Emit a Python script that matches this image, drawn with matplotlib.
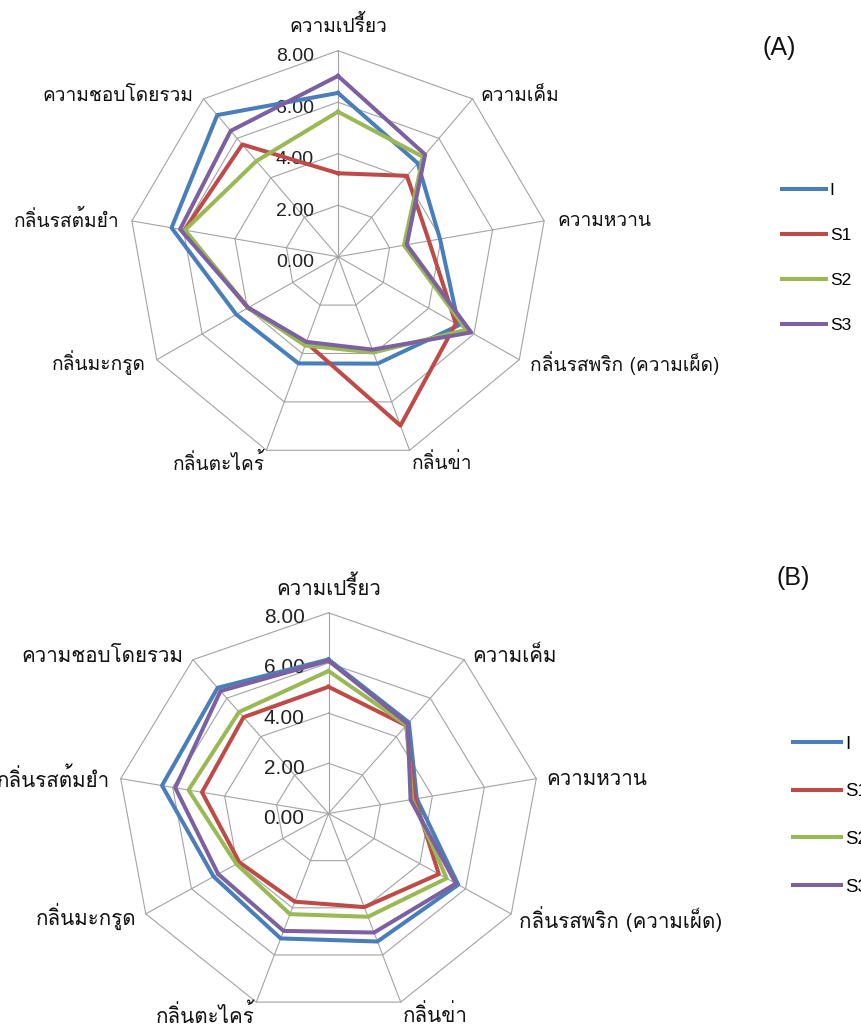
import numpy as np
import matplotlib
matplotlib.use("Agg")
import matplotlib.pyplot as plt

# Sensory attributes (clockwise from the top spoke)
attributes = [
    "ความเปรี้ยว", "ความเค็ม", "ความหวาน", "กลิ่นรสพริก (ความเผ็ด)",
    "กลิ่นข่า", "กลิ่นตะไคร้", "กลิ่นมะกรูด", "กลิ่นรสต้มยำ", "ความชอบโดยรวม",
]
series_names = ["I", "S1", "S2", "S3"]
radial_ticks = [0, 2, 4, 6, 8]

# Panel (A) mean scores
a_I = [6.36, 4.74, 3.96, 5.33, 4.42, 4.41, 4.49, 6.46, 7.18]
a_S1 = [3.24, 4.10, 3.53, 5.20, 6.98, 3.55, 3.98, 5.96, 5.69]
a_S2 = [5.63, 5.06, 2.56, 5.67, 3.96, 3.67, 3.96, 5.94, 4.85]
a_S3 = [7.02, 5.18, 2.67, 5.88, 3.84, 3.52, 3.96, 6.13, 6.38]

# Panel (B) mean scores
b_I = [6.14, 4.74, 3.40, 5.68, 5.43, 5.30, 5.03, 6.41, 6.54]
b_S1 = [5.05, 4.58, 3.33, 4.83, 3.97, 3.74, 3.90, 4.87, 5.01]
b_S2 = [5.68, 4.60, 3.22, 5.17, 4.38, 4.27, 4.03, 5.39, 5.28]
b_S3 = [6.09, 4.67, 3.16, 5.58, 5.05, 4.98, 4.83, 5.90, 6.37]

colors = ["#4A7EBB", "#BE4B48", "#98B954", "#7D60A0"]
GRID = "#a3a3a3"
THAI = ["Loma", "IBM Plex Sans Thai Looped", "DejaVu Sans"]
LATIN = ["Liberation Sans", "DejaVu Sans"]

W, H = 861, 1025
fig = plt.figure(figsize=(W / 100, H / 100), dpi=100)

n = len(attributes)
theta = np.arange(n) * 2 * np.pi / n
theta_c = np.append(theta, theta[0])

# label placement around the outer ring: (dx, dy, ha, va) in pixels
label_pos_A = [
    (0, 25, "center", "center"), (8, 3, "left", "center"), (13, 0, "left", "center"),
    (11, -3, "left", "center"), (2, -13, "left", "center"), (-2, -13, "right", "center"),
    (-11, -3, "right", "center"), (-12, 0, "right", "center"), (-10, 3, "right", "center"),
]
label_pos_B = [
    (0, 26, "center", "center"), (8, 4, "left", "center"), (10, -1, "left", "center"),
    (8, -5, "left", "center"), (2, -13, "left", "center"), (-2, -13, "right", "center"),
    (-9, -4, "right", "center"), (-11, -1, "right", "center"), (-9, 3, "right", "center"),
]


def px_rect(cx, cy, rx, ry):
    return [(cx - rx) / W, 1 - (cy + ry) / H, 2 * rx / W, 2 * ry / H]


def radar(rect, data, label_pos, fs_label, fs_tick):
    ax = fig.add_axes(rect, projection="polar")
    ax.set_theta_zero_location("N")
    ax.set_theta_direction(-1)
    ax.set_ylim(0, 8)
    ax.set_aspect("auto")
    ax.set_xticks([])
    ax.set_yticks([])
    ax.grid(False)
    ax.spines["polar"].set_visible(False)
    ax.patch.set_visible(False)

    # polygon grid rings and spokes
    for r in radial_ticks[1:]:
        ax.plot(theta_c, [r] * (n + 1), color=GRID, lw=0.8, zorder=1, clip_on=False)
    for t in theta:
        ax.plot([t, t], [0, 8], color=GRID, lw=0.8, zorder=1, clip_on=False)

    # radial tick labels along the top spoke
    for r in radial_ticks:
        ax.annotate(f"{r:.2f}", xy=(0, r), xytext=(-24, -10.5),
                    textcoords="offset pixels", ha="right", va="baseline",
                    fontsize=fs_tick, family=LATIN, color="#222222",
                    zorder=2, annotation_clip=False)

    # attribute labels
    for t, name, (dx, dy, ha, va) in zip(theta, attributes, label_pos):
        ax.annotate(name, xy=(t, 8), xytext=(dx, dy), textcoords="offset pixels",
                    ha=ha, va=va, fontsize=fs_label, family=THAI, color="#111111",
                    annotation_clip=False)

    lines = []
    for vals, c, name in zip(data, colors, series_names):
        v = np.append(vals, vals[0])
        (ln,) = ax.plot(theta_c, v, color=c, lw=2.9, label=name, zorder=3,
                        solid_joinstyle="round", clip_on=False)
        lines.append(ln)
    return ax, lines


axA, linesA = radar(px_rect(338, 256.7, 209.3, 206), [a_I, a_S1, a_S2, a_S3],
                    label_pos_A, 13.8, 14)
axB, linesB = radar(px_rect(328.5, 813.5, 211, 200.7), [b_I, b_S1, b_S2, b_S3],
                    label_pos_B, 14.8, 15)

fsA = 12.5
fig.legend(handles=linesA, labels=series_names, loc="upper left",
           bbox_to_anchor=(782 / W, 1 - 182.5 / H), frameon=False,
           borderpad=0, borderaxespad=0, handlelength=44 / (fsA * 100 / 72),
           handletextpad=0.22, labelspacing=1.72,
           prop={"family": LATIN, "size": fsA})
fsB = 13.4
fig.legend(handles=linesB, labels=series_names, loc="upper left",
           bbox_to_anchor=(793 / W, 1 - 735.5 / H), frameon=False,
           borderpad=0, borderaxespad=0, handlelength=48.4 / (fsB * 100 / 72),
           handletextpad=0.2, labelspacing=1.65,
           prop={"family": LATIN, "size": fsB})

fig.text(779.5 / W, 1 - 48 / H, "(A)", ha="center", va="center",
         fontsize=18, family=LATIN, color="#111111")
fig.text(793 / W, 1 - 578 / H, "(B)", ha="center", va="center",
         fontsize=18, family=LATIN, color="#111111")

fig.savefig("out.png", dpi=100)
